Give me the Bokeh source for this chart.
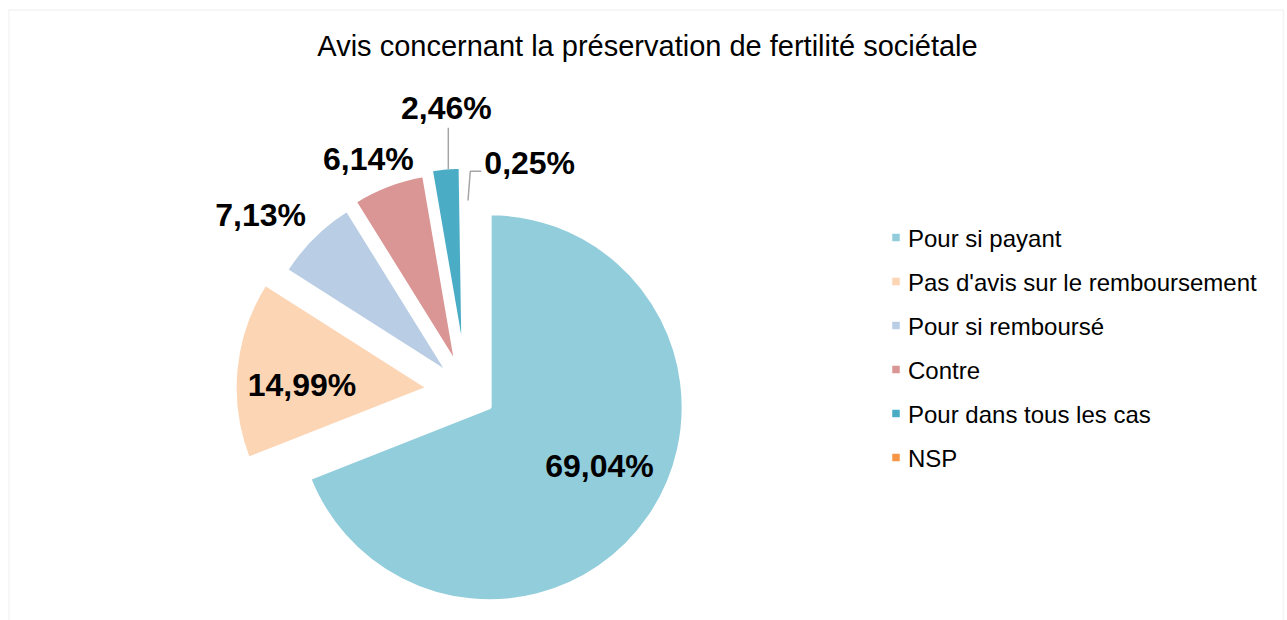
import math
from bokeh.plotting import figure
from bokeh.models import Range1d, BoxAnnotation, ColumnDataSource
from bokeh.core.properties import value
from bokeh.embed import file_html
from bokeh.resources import INLINE

# ---------------- data ----------------
title_text = "Avis concernant la préservation de fertilité sociétale"
categories = ["Pour si payant", "Pas d'avis sur le remboursement", "Pour si remboursé",
              "Contre", "Pour dans tous les cas", "NSP"]
percent_values = [69.04, 14.99, 7.13, 6.14, 2.46, 0.25]
label_texts = ["69,04%", "14,99%", "7,13%", "6,14%", "2,46%", "0,25%"]

# ---------------- style ----------------
colors = ["#92CDDC", "#FCD5B5", "#B9CDE5", "#D99694", "#4BACC6", "#F79646"]
explode_px = [28, 38, 24, 27, 31, 0]          # explosion distance of each slice
label_r = [0.643, 0.653, 1.276, 1.162, 1.303, 1.223]   # label distance (fraction of radius)
label_dtheta = [-6.0, -4.0, -5.1, -2.3, 1.4, 15.9]     # label angle shift (deg)
W, H = 1287, 620
CX, CY, R = 466, 229, 194
FONT = "Liberation Sans"
LBL_FS, TITLE_FS, LEG_FS = 32, 29, 24

p = figure(width=W, height=H, output_backend="svg", toolbar_location=None,
           x_range=Range1d(0, W), y_range=Range1d(0, H), min_border=0,
           x_axis_type=None, y_axis_type=None)
p.outline_line_color = None
p.xgrid.visible = False
p.ygrid.visible = False
p.background_fill_color = "white"

# chart border
p.add_layout(BoxAnnotation(left=8.5, right=1283, bottom=-20, top=610.5,
                           fill_alpha=0, line_color="#D9D9D9", line_width=1.5))

total = sum(percent_values)
cum = 0.0
xs, ys, starts, ends, mids = [], [], [], [], []
for v, d in zip(percent_values, explode_px):
    t1 = cum / total * 360.0
    cum += v
    t2 = cum / total * 360.0
    tm = (t1 + t2) / 2
    xs.append(CX + d * math.sin(math.radians(tm)))
    ys.append(CY + d * math.cos(math.radians(tm)))
    starts.append(90 - t2)
    ends.append(90 - t1)
    mids.append(tm)

src = ColumnDataSource(dict(x=xs, y=ys, start=starts, end=ends, color=colors, cat=categories))
p.wedge(x="x", y="y", radius=R, start_angle="start", end_angle="end",
        start_angle_units="deg", end_angle_units="deg", direction="anticlock",
        fill_color="color", line_color="white", line_width=4, source=src)

# labels (y = vertical centre of the digits)
lx, ly = [], []
for i in range(len(percent_values)):
    th = math.radians(mids[i] + label_dtheta[i])
    lx.append(xs[i] + label_r[i] * R * math.sin(th))
    ly.append(ys[i] + label_r[i] * R * math.cos(th))
p.text(x=lx, y=ly, text=label_texts, text_align="center", text_baseline="middle",
       text_font=value(FONT), text_font_style="bold", text_font_size=f"{LBL_FS}px",
       text_color="black")

# leader lines (Pour dans tous les cas, NSP)
i = 4
x4 = lx[i] + 2
sx = (x4 - xs[i]) / (R - 2)
y_arc = ys[i] + (R - 2) * math.sqrt(1 - sx * sx)
p.line(x=[x4, x4], y=[y_arc, ly[i] - 0.6 * LBL_FS], line_color="#A6A6A6", line_width=1.5)

i = 5
th = math.radians(mids[i])
p0 = (xs[i] + (R - 3) * math.sin(th) + 3, ys[i] + (R - 3) * math.cos(th))
half_w = 2.835 * LBL_FS / 2
p2 = (lx[i] - half_w - 3, ly[i] - 8.5)
p1 = (p0[0] + 2.3, p2[1])
p.line(x=[p0[0], p1[0], p2[0]], y=[p0[1], p1[1], p2[1]], line_color="#A6A6A6", line_width=1.5)

# title
p.text(x=[647], y=[620 - 45.5], text=[title_text], text_align="center", text_baseline="middle",
       text_font=value(FONT), text_font_size=f"{TITLE_FS}px", text_color="black")

# legend
leg_x, leg_y0, leg_step = 895.5, 620 - 237, 44
leg_ys = [leg_y0 - k * leg_step for k in range(len(categories))]
p.scatter(x=[leg_x] * len(categories), y=leg_ys, marker="square", size=7.5,
          fill_color=colors, line_color=None)
p.text(x=[leg_x + 12] * len(categories), y=[y - 0.5 for y in leg_ys], text=categories,
       text_align="left", text_baseline="middle", text_font=value(FONT),
       text_font_size=f"{LEG_FS}px", text_color="black")

open("out.html", "w").write(file_html(p, INLINE))
